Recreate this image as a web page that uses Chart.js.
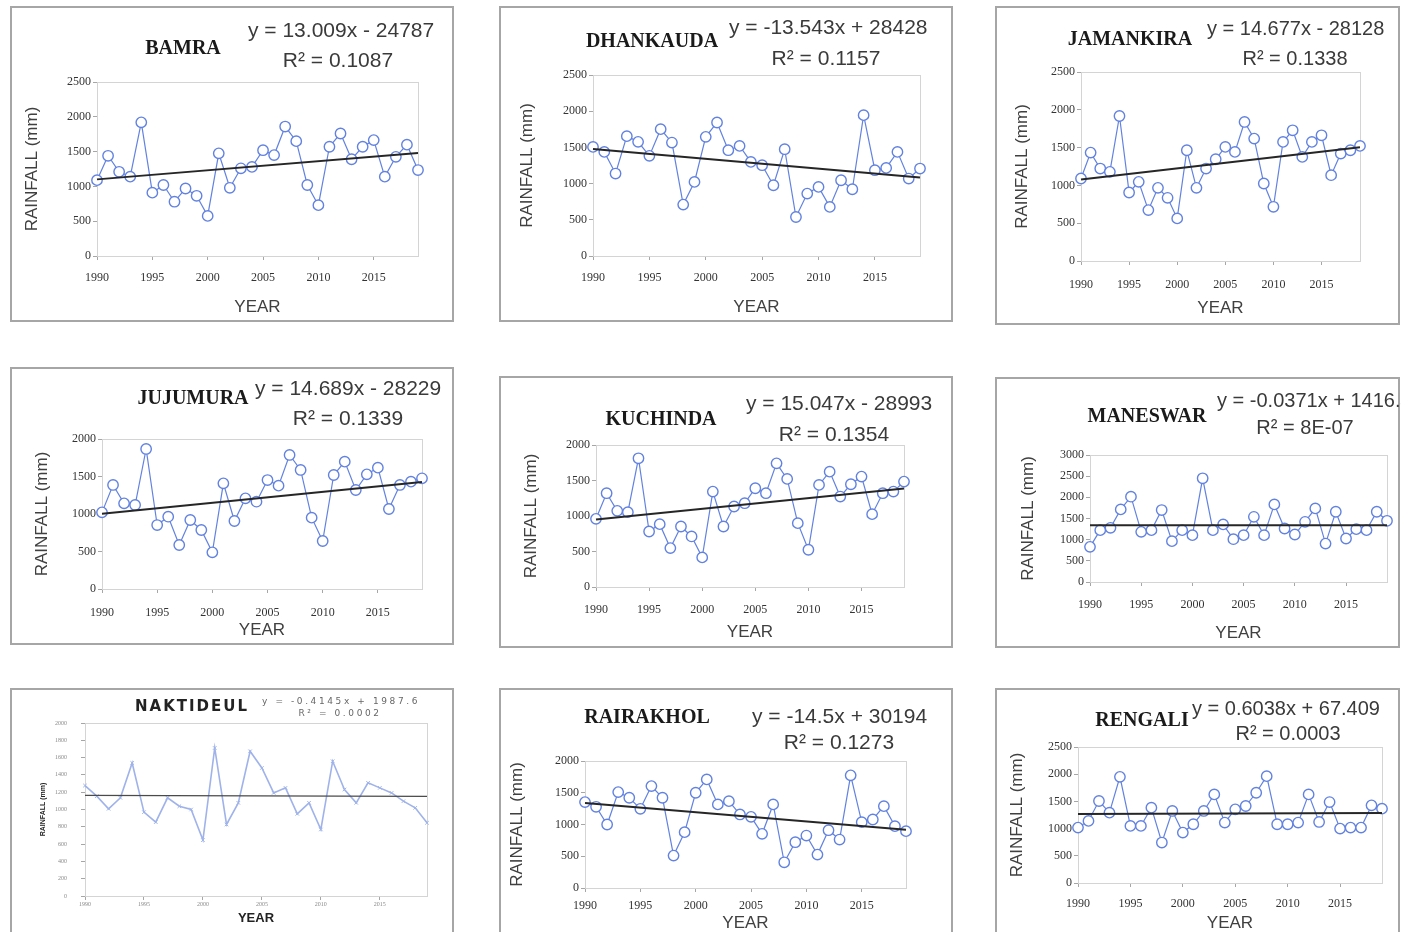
<!DOCTYPE html>
<html>
<head>
<meta charset="utf-8">
<title>Annual rainfall trends, 1990–2019</title>
<script src="https://cdn.jsdelivr.net/npm/chart.js@4.4.1/dist/chart.umd.min.js"></script>
<style>
  html, body { margin: 0; padding: 0; background: #fff; width: 1401px; height: 932px; overflow: hidden; position: relative; }
  .box { position: absolute; box-sizing: border-box; border: 2px solid #a6a6a6; background: #fff; }
  canvas { position: absolute; }
  .txt { position: absolute; white-space: nowrap; line-height: 1.2; }
  .name { font-family: "Liberation Serif", serif; font-weight: bold; color: #1a1a1a; transform: translateX(-50%); }
  .eq { font-family: "Liberation Sans", sans-serif; color: #3a3a3a; }
  .r2 { font-family: "Liberation Sans", sans-serif; color: #3a3a3a; transform: translateX(-50%); }
  .small { font-family: "DejaVu Sans", sans-serif; color: #666; letter-spacing: 2.6px; }
</style>
</head>
<body>
<script>
// ---- data -------------------------------------------------------------
const years = [1990, 1991, 1992, 1993, 1994, 1995, 1996, 1997, 1998, 1999,
               2000, 2001, 2002, 2003, 2004, 2005, 2006, 2007, 2008, 2009,
               2010, 2011, 2012, 2013, 2014, 2015, 2016, 2017, 2018, 2019];

const stations = ['BAMRA', 'DHANKAUDA', 'JAMANKIRA', 'JUJUMURA', 'KUCHINDA',
                  'MANESWAR', 'NAKTIDEUL', 'RAIRAKHOL', 'RENGALI'];

// annual rainfall (mm)
const bamra     = [1090, 1440, 1210, 1140, 1920, 910, 1020, 780, 970, 865,
                   576, 1475, 980, 1260, 1280, 1520, 1450, 1860, 1650, 1020,
                   730, 1570, 1760, 1390, 1570, 1665, 1140, 1425, 1600, 1235];
const dhankauda = [1507, 1438, 1139, 1655, 1577, 1383, 1752, 1567, 710, 1023,
                   1646, 1844, 1461, 1521, 1300, 1254, 977, 1475, 539, 862,
                   954, 678, 1046, 922, 1945, 1185, 1217, 1438, 1070, 1208];
const jamankira = [1091, 1434, 1223, 1179, 1918, 906, 1047, 673, 968, 836,
                   563, 1465, 968, 1223, 1346, 1509, 1443, 1839, 1619, 1025,
                   717, 1575, 1729, 1377, 1575, 1663, 1135, 1421, 1465, 1522];
const jujumura  = [1022, 1387, 1142, 1120, 1867, 853, 964, 587, 920, 787,
                   489, 1409, 907, 1209, 1164, 1453, 1378, 1787, 1587, 951,
                   640, 1520, 1698, 1320, 1529, 1618, 1067, 1387, 1431, 1476];
const kuchinda  = [960, 1321, 1073, 1054, 1813, 782, 885, 548, 852, 712,
                   417, 1344, 852, 1134, 1180, 1391, 1321, 1742, 1522, 899,
                   525, 1438, 1625, 1274, 1447, 1555, 1026, 1321, 1344, 1485];
const maneswar  = [830, 1225, 1280, 1714, 2015, 1185, 1225, 1700, 964, 1225,
                   1106, 2450, 1225, 1360, 1011, 1106, 1540, 1106, 1833, 1264,
                   1122, 1422, 1738, 908, 1659, 1027, 1248, 1225, 1659, 1446];
const naktideul = [1277, 1154, 1008, 1135, 1538, 969, 854, 1135, 1038, 1000,
                   646, 1711, 827, 1077, 1673, 1480, 1192, 1250, 950, 1077,
                   769, 1558, 1231, 1077, 1308, 1250, 1192, 1096, 1019, 846];
const rairakhol = [1353, 1279, 1000, 1510, 1421, 1247, 1605, 1421, 510, 879,
                   1500, 1710, 1316, 1368, 1158, 1121, 853, 1316, 405, 721,
                   826, 526, 910, 763, 1774, 1037, 1079, 1289, 974, 895];
const rengali   = [1019, 1141, 1507, 1293, 1952, 1049, 1049, 1385, 744, 1324,
                   927, 1080, 1324, 1629, 1110, 1354, 1415, 1659, 1964, 1080,
                   1080, 1110, 1629, 1122, 1488, 1000, 1019, 1019, 1427, 1366];

const rainfall = [bamra, dhankauda, jamankira, jujumura, kuchinda,
                  maneswar, naktideul, rairakhol, rengali];

// linear trend lines  y = slope * year + intercept
const slopes     = [13.009, -13.543, 14.677, 14.689, 15.047, -0.0371, -0.4145, -14.5, 0.6038];
const intercepts = [-24787, 28428, -28128, -28229, -28993, 1416.4, 1987.6, 30194, 67.409];
const r2Labels   = ['0.1087', '0.1157', '0.1338', '0.1339', '0.1354', '8E-07', '0.0002', '0.1273', '0.0003'];

// y-axis ranges
const yMaxima = [2500, 2500, 2500, 2000, 2000, 3000, 2000, 2000, 2500];
const ySteps  = [500, 500, 500, 500, 500, 500, 200, 500, 500];

// ---- panel geometry (page pixels) --------------------------------------
// box: panel frame; plot: [x of 1990, y of max, x of 2019, y of 0]
const panels = [
  { box: [10, 6, 454, 322],    plot: [97, 82, 418, 256],     name: [183, 47],   eq: [248, 30, 21],   r2: [338, 60],   yT: 32,   xT: 307, xL: 278 },
  { box: [499, 6, 953, 322],   plot: [593, 75, 920, 256],    name: [652, 40],   eq: [729, 27, 21],   r2: [826, 58],   yT: 527,  xT: 307, xL: 278 },
  { box: [995, 6, 1400, 325],  plot: [1081, 72, 1360, 261],  name: [1130, 38],  eq: [1207, 28, 20],  r2: [1295, 58],  yT: 1022, xT: 308, xL: 285 },
  { box: [10, 367, 454, 645],  plot: [102, 439, 422, 589],   name: [193, 397],  eq: [255, 388, 21],  r2: [348, 418],  yT: 42,   xT: 630, xL: 613 },
  { box: [499, 376, 953, 648], plot: [596, 445, 904, 587],   name: [661, 418],  eq: [746, 403, 21],  r2: [834, 434],  yT: 531,  xT: 632, xL: 610 },
  { box: [995, 377, 1400, 648],plot: [1090, 455, 1387, 582], name: [1147, 415], eq: [1217, 400, 20], r2: [1305, 427], yT: 1028, xT: 633, xL: 605 },
  { box: [10, 688, 454, 934],  plot: [85, 723, 427, 896],    name: [192, 706],  eq: [262, 701, 9],   r2: [340, 713],  yT: 43,   xT: 918, xL: 904, faint: true },
  { box: [499, 688, 953, 934], plot: [585, 761, 906, 888],   name: [647, 716],  eq: [752, 716, 21],  r2: [839, 742],  yT: 517,  xT: 923, xL: 906 },
  { box: [995, 688, 1400, 934],plot: [1078, 747, 1382, 883], name: [1142, 719], eq: [1192, 708, 20], r2: [1288, 733], yT: 1017, xT: 924, xL: 904 }
];

// ---- helpers ------------------------------------------------------------
function addText(cls, text, x, y, size, extra) {
  const d = document.createElement('div');
  d.className = 'txt ' + cls;
  d.textContent = text;
  d.style.left = x + 'px';
  d.style.top = (y - size * 0.6) + 'px';
  d.style.fontSize = size + 'px';
  if (extra) Object.assign(d.style, extra);
  document.body.appendChild(d);
}

function equationText(slope, intercept) {
  const sign = intercept < 0 ? '-' : '+';
  return 'y = ' + slope + 'x ' + sign + ' ' + Math.abs(intercept);
}

// light frame around the plot area
const plotFrame = {
  id: 'plotFrame',
  beforeDatasetsDraw(chart) {
    const a = chart.chartArea, c = chart.ctx;
    c.save();
    c.strokeStyle = '#d4d4d4';
    c.lineWidth = 1;
    c.strokeRect(Math.round(a.left) + 0.5, Math.round(a.top) + 0.5,
                 Math.round(a.right - a.left), Math.round(a.bottom - a.top));
    c.restore();
  }
};

// ---- build panels --------------------------------------------------------
panels.forEach((p, i) => {
  const [bl, bt, br, bb] = p.box;
  const [pl, pt, pr, pb] = p.plot;
  const faint = !!p.faint;

  const frame = document.createElement('div');
  frame.className = 'box';
  Object.assign(frame.style, { left: bl + 'px', top: bt + 'px', width: (br - bl) + 'px', height: (bb - bt) + 'px' });
  document.body.appendChild(frame);

  const cv = document.createElement('canvas');
  const W = br - bl, H = bb - bt;
  cv.width = W; cv.height = H;
  Object.assign(cv.style, { left: bl + 'px', top: bt + 'px', width: W + 'px', height: H + 'px' });
  document.body.appendChild(cv);

  const yTitleSize = faint ? 7 : 17;
  const xTitleSize = faint ? 13 : 17;
  const tickSize = faint ? 6 : 12;
  const tickLen = 4;
  const yTitlePad = Math.max(0, p.yT - bl - yTitleSize * 1.2 / 2);
  const xTitlePad = Math.max(0, bb - p.xT - xTitleSize * 1.2 / 2);
  const xTickPad = Math.max(0, p.xL - pb - tickLen - tickSize * 1.2 / 2);

  const points = years.map((yr, k) => ({ x: yr, y: rainfall[i][k] }));
  const first = years[0], last = years[years.length - 1];
  const trend = [
    { x: first, y: slopes[i] * first + intercepts[i] },
    { x: last,  y: slopes[i] * last + intercepts[i] }
  ];

  const tickColor = faint ? '#8a8a8a' : '#333';
  const titleColor = faint ? '#222' : '#404040';
  const seriesColor = faint ? '#9fb3ea' : '#6282e0';

  new Chart(cv, {
    type: 'line',
    data: {
      datasets: [
        {
          label: 'Linear trend',
          data: trend,
          borderColor: faint ? '#4a4a4a' : '#262626',
          borderWidth: faint ? 1.2 : 2,
          pointRadius: 0,
          clip: false
        },
        {
          label: stations[i],
          data: points,
          borderColor: seriesColor,
          borderWidth: faint ? 1.6 : 1.2,
          backgroundColor: '#ffffff',
          pointStyle: faint ? 'crossRot' : 'circle',
          pointRadius: faint ? 2.5 : 5.2,
          pointBorderWidth: faint ? 1 : 1.4,
          pointBorderColor: seriesColor,
          pointBackgroundColor: '#ffffff',
          tension: 0,
          clip: false
        }
      ]
    },
    options: {
      responsive: false,
      animation: false,
      events: [],
      layout: { padding: { left: 0, top: pt - bt, right: br - pr, bottom: 0 } },
      plugins: { legend: { display: false }, tooltip: { enabled: false } },
      scales: {
        x: {
          type: 'linear',
          min: first,
          max: last,
          afterFit(s) { s.height = bb - pb; },
          ticks: {
            stepSize: 5,
            includeBounds: false,
            autoSkip: false,
            maxRotation: 0,
            padding: xTickPad,
            color: tickColor,
            font: { family: 'Liberation Serif', size: tickSize },
            callback: v => String(v)
          },
          grid: { drawOnChartArea: false, drawTicks: true, tickLength: tickLen, color: '#a6a6a6' },
          border: { color: '#a6a6a6', width: 1 },
          title: {
            display: true,
            text: 'YEAR',
            color: titleColor,
            font: { family: 'Liberation Sans', size: xTitleSize, weight: faint ? 'bold' : 'normal' },
            padding: { top: 0, bottom: xTitlePad }
          }
        },
        y: {
          min: 0,
          max: yMaxima[i],
          afterFit(s) { s.width = pl - bl; },
          ticks: {
            stepSize: ySteps[i],
            padding: faint ? 14 : 2,
            color: tickColor,
            font: { family: 'Liberation Serif', size: tickSize },
            callback: v => String(v)
          },
          grid: { drawOnChartArea: false, drawTicks: true, tickLength: tickLen, color: '#a6a6a6' },
          border: { color: '#a6a6a6', width: 1 },
          title: {
            display: true,
            text: 'RAINFALL (mm)',
            color: titleColor,
            font: { family: 'Liberation Sans', size: yTitleSize, weight: faint ? 'bold' : 'normal' },
            padding: { top: yTitlePad, bottom: 0 }
          }
        }
      }
    },
    plugins: [plotFrame]
  });

  // station name, trend equation and R²
  if (faint) {
    addText('name', stations[i], p.name[0], p.name[1], 15,
            { fontFamily: '"DejaVu Sans", sans-serif', letterSpacing: '2px', color: '#222' });
    addText('small', equationText(slopes[i], intercepts[i]), p.eq[0], p.eq[1], p.eq[2]);
    addText('small', 'R² = ' + r2Labels[i], p.r2[0], p.r2[1], p.eq[2], { transform: 'translateX(-50%)' });
  } else {
    addText('name', stations[i], p.name[0], p.name[1], 20);
    addText('eq', equationText(slopes[i], intercepts[i]), p.eq[0], p.eq[1], p.eq[2]);
    addText('r2', 'R² = ' + r2Labels[i], p.r2[0], p.r2[1], p.eq[2]);
  }
});
</script>
</body>
</html>
